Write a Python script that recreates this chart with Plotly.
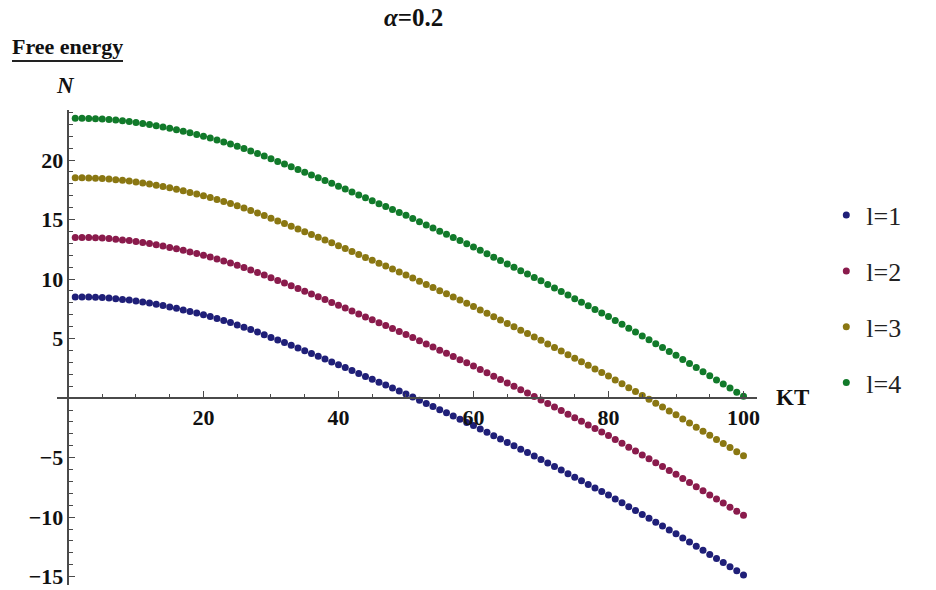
import plotly.graph_objects as go

KT = list(range(1, 101))

l1 = [8.50, 8.50, 8.49, 8.47, 8.44, 8.40, 8.35, 8.29, 8.23, 8.15,
      8.07, 7.98, 7.88, 7.77, 7.66, 7.54, 7.41, 7.28, 7.15, 7.00,
      6.85, 6.69, 6.52, 6.34, 6.15, 5.96, 5.76, 5.55, 5.33, 5.10,
      4.88, 4.66, 4.43, 4.20, 3.97, 3.74, 3.51, 3.28, 3.04, 2.80,
      2.56, 2.31, 2.07, 1.82, 1.58, 1.33, 1.09, 0.84, 0.60, 0.35,
      0.09, -0.18, -0.45, -0.71, -0.98, -1.24, -1.51, -1.77, -2.04, -2.30,
      -2.59, -2.87, -3.16, -3.44, -3.73, -4.01, -4.30, -4.58, -4.87, -5.15,
      -5.45, -5.75, -6.05, -6.35, -6.65, -6.95, -7.25, -7.55, -7.85, -8.15,
      -8.48, -8.80, -9.13, -9.45, -9.78, -10.10, -10.43, -10.75, -11.08, -11.40,
      -11.75, -12.09, -12.44, -12.78, -13.13, -13.47, -13.82, -14.16, -14.51, -14.85]

l2 = [13.50, 13.50, 13.49, 13.47, 13.44, 13.40, 13.35, 13.29, 13.23, 13.15,
      13.07, 12.98, 12.88, 12.77, 12.66, 12.54, 12.41, 12.28, 12.15, 12.00,
      11.85, 11.69, 11.52, 11.34, 11.15, 10.96, 10.76, 10.55, 10.33, 10.10,
      9.88, 9.66, 9.43, 9.20, 8.97, 8.74, 8.51, 8.28, 8.04, 7.80,
      7.56, 7.31, 7.07, 6.82, 6.58, 6.33, 6.09, 5.84, 5.60, 5.35,
      5.09, 4.82, 4.55, 4.29, 4.02, 3.76, 3.49, 3.23, 2.96, 2.70,
      2.41, 2.13, 1.84, 1.56, 1.27, 0.99, 0.70, 0.42, 0.13, -0.15,
      -0.45, -0.75, -1.05, -1.35, -1.65, -1.95, -2.25, -2.55, -2.85, -3.15,
      -3.48, -3.80, -4.13, -4.45, -4.78, -5.10, -5.43, -5.75, -6.08, -6.40,
      -6.75, -7.09, -7.44, -7.78, -8.13, -8.47, -8.82, -9.16, -9.51, -9.85]

l3 = [18.50, 18.50, 18.49, 18.47, 18.44, 18.40, 18.35, 18.29, 18.23, 18.15,
      18.07, 17.98, 17.88, 17.77, 17.66, 17.54, 17.41, 17.28, 17.15, 17.00,
      16.85, 16.69, 16.52, 16.34, 16.15, 15.96, 15.76, 15.55, 15.33, 15.10,
      14.88, 14.66, 14.43, 14.20, 13.97, 13.74, 13.51, 13.28, 13.04, 12.80,
      12.56, 12.31, 12.07, 11.82, 11.58, 11.33, 11.09, 10.84, 10.60, 10.35,
      10.09, 9.82, 9.55, 9.29, 9.02, 8.76, 8.49, 8.23, 7.96, 7.70,
      7.41, 7.13, 6.84, 6.56, 6.27, 5.99, 5.70, 5.42, 5.13, 4.85,
      4.55, 4.25, 3.95, 3.65, 3.35, 3.05, 2.75, 2.45, 2.15, 1.85,
      1.52, 1.20, 0.87, 0.55, 0.22, -0.10, -0.43, -0.75, -1.08, -1.40,
      -1.75, -2.09, -2.44, -2.78, -3.13, -3.47, -3.82, -4.16, -4.51, -4.85]

l4 = [23.50, 23.50, 23.49, 23.47, 23.44, 23.40, 23.35, 23.29, 23.23, 23.15,
      23.07, 22.98, 22.88, 22.77, 22.66, 22.54, 22.41, 22.28, 22.15, 22.00,
      21.85, 21.69, 21.52, 21.34, 21.15, 20.96, 20.76, 20.55, 20.33, 20.10,
      19.88, 19.66, 19.43, 19.20, 18.97, 18.74, 18.51, 18.28, 18.04, 17.80,
      17.56, 17.31, 17.07, 16.82, 16.58, 16.33, 16.09, 15.84, 15.60, 15.35,
      15.09, 14.82, 14.55, 14.29, 14.02, 13.76, 13.49, 13.23, 12.96, 12.70,
      12.41, 12.13, 11.84, 11.56, 11.27, 10.99, 10.70, 10.42, 10.13, 9.85,
      9.55, 9.25, 8.95, 8.65, 8.35, 8.05, 7.75, 7.45, 7.15, 6.85,
      6.52, 6.20, 5.87, 5.55, 5.22, 4.90, 4.57, 4.25, 3.92, 3.60,
      3.25, 2.91, 2.56, 2.22, 1.87, 1.53, 1.18, 0.84, 0.49, 0.15]

series_names = ["l=1", "l=2", "l=3", "l=4"]
series_values = [l1, l2, l3, l4]
colors = ["#1f1f78", "#8a1b4c", "#8a7712", "#117a2a"]

x_ticks = [20, 40, 60, 80, 100]
y_ticks = [-15, -10, -5, 5, 10, 15, 20]

XR = [-1.7, 102.0]
YR = [-15.7, 24.2]

fig = go.Figure()
for i, (name, vals) in enumerate(zip(series_names, series_values)):
    fig.add_trace(go.Scatter(
        x=KT, y=vals, mode="markers", name=name,
        legendgroup=name,
        marker=dict(size=7, color=colors[i]),
        cliponaxis=False,
    ))

serif = "Liberation Serif"
axis_col = "#4a4a4a"

fig.update_layout(
    width=936, height=590,
    margin=dict(l=57, r=179, t=110, b=5, autoexpand=False),
    paper_bgcolor="white", plot_bgcolor="white",
    showlegend=True,
    legend=dict(x=1.099, y=0.828, xanchor="left", yanchor="top",
                font=dict(family=serif, size=26, color="#222"),
                tracegroupgap=19, itemwidth=30,
                bgcolor="rgba(0,0,0,0)"),
    xaxis=dict(range=XR, anchor="free", position=(0 - YR[0]) / (YR[1] - YR[0]),
               automargin=False,
               showgrid=False, zeroline=False, showline=True,
               linecolor=axis_col, linewidth=1.5,
               tickvals=x_ticks, ticks="inside", ticklen=6, tickwidth=1.2,
               tickcolor=axis_col,
               minor=dict(dtick=5, tick0=0, ticks="inside", ticklen=3,
                          tickwidth=1, tickcolor=axis_col),
               tickfont=dict(family=serif, size=22, color="#111", weight="bold")),
    yaxis=dict(range=YR, anchor="free", position=(0 - XR[0]) / (XR[1] - XR[0]),
               automargin=False,
               showgrid=False, zeroline=False, showline=True,
               linecolor=axis_col, linewidth=1.5,
               tickvals=y_ticks, ticks="inside", ticklen=6, tickwidth=1.2,
               tickcolor=axis_col,
               minor=dict(dtick=1, tick0=0, ticks="inside", ticklen=3.5,
                          tickwidth=1, tickcolor=axis_col),
               tickfont=dict(family=serif, size=22, color="#111", weight="bold")),
)

def px2paper_x(px):
    return (px - 57) / 700.0

def px2paper_y(py):
    return (585 - py) / 475.0

annots = [
    dict(text="<b><i>α</i>=0.2</b>", x=px2paper_x(413), y=px2paper_y(17), size=25),
    dict(text="<b>Free energy</b>", x=px2paper_x(67), y=px2paper_y(47), size=22),
    dict(text="<b><i>N</i></b>", x=px2paper_x(65), y=px2paper_y(86), size=23),
    dict(text="<b>KT</b>", x=px2paper_x(792), y=px2paper_y(398), size=23),
]
for a in annots:
    fig.add_annotation(text=a["text"], x=a["x"], y=a["y"], xref="paper", yref="paper",
                       showarrow=False, xanchor="center", yanchor="middle",
                       font=dict(family=serif, size=a["size"], color="#111"))

fig.add_shape(type="line", xref="paper", yref="paper",
              x0=px2paper_x(12), x1=px2paper_x(123),
              y0=px2paper_y(61), y1=px2paper_y(61),
              line=dict(color="#222", width=2))

# remove the browser's default 8px body margin so the figure fills the window
fig.write_html("out.html",
               config={"displayModeBar": False},
               post_script="document.body.style.margin='0';document.body.style.overflow='hidden';")
